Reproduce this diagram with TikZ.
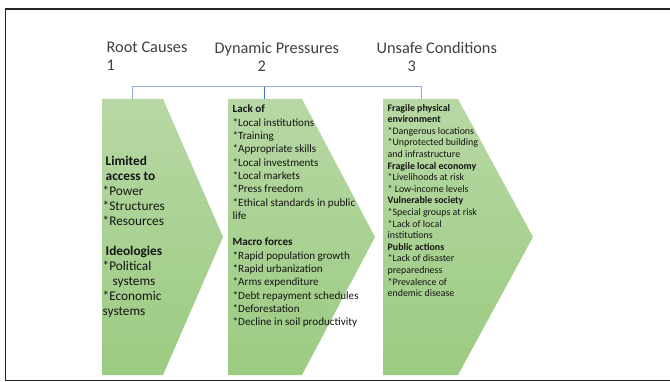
\documentclass[tikz,border=0pt]{standalone}
\usepackage{fontspec}
\setmainfont{Carlito}
\definecolor{gtop}{RGB}{183,216,164}
\definecolor{gbot}{RGB}{156,203,130}
\definecolor{titlegray}{RGB}{64,64,64}
\definecolor{bodyblack}{RGB}{20,20,20}
\definecolor{linkblue}{RGB}{143,170,220}
\definecolor{linkdark}{RGB}{68,114,196}
\begin{document}
\begin{tikzpicture}[x=1pt,y=-1pt,
  chev/.style={top color=gtop,bottom color=gbot,draw=none},
  title/.style={anchor=north west,inner sep=0pt,align=left,text=titlegray,font=\fontsize{16.3}{18}\selectfont},
  body/.style={anchor=north west,inner sep=0pt,align=left,text=bodyblack},
  link/.style={draw=linkblue,line width=1pt},
  linkd/.style={draw=linkdark,line width=1pt}]
\useasboundingbox (0,0) rectangle (670,382);
\fill[white] (0,0) rectangle (670,382);
\draw[black!85,line width=1.8pt] (5.5,9) rectangle (700,380.5);

% titles
\node[title] (h1) at (106.5,42) {Root Causes\\1};
\node[title] (h2) at (214.5,42) {Dynamic Pressures\\\hspace*{43pt}2};
\node[title] (h3) at (376.5,42) {Unsafe Conditions\\\hspace*{31pt}3};

% chevrons
\path[chev] (102,99) -- (163,99) -- (223,237) -- (163,375) -- (102,375) -- cycle;
\path[chev] (228,99) -- (302,99) -- (375,237) -- (302,375) -- (228,375) -- cycle;
\path[chev] (383,99) -- (458,99) -- (533,237) -- (458,375) -- (383,375) -- cycle;
\coordinate (c1) at (132,99);
\coordinate (c2) at (264,99);
\coordinate (c3) at (421,99);
\coordinate (hub) at (264,87);

% connectors
\draw[link] (hub) -| (c1);
\draw[link] (hub) -| (c3);
\draw[linkd] (hub) -- (c2);

% texts
\node[body,font=\fontsize{13.3}{15}\selectfont] (t1) at (102.5,156)
 {\hspace*{3pt}\textbf{Limited}\\\hspace*{3pt}\textbf{access to}\\*Power\\*Structures\\*Resources\\[15pt]\hspace*{3pt}\textbf{Ideologies}\\*Political\\\hspace*{10pt}systems\\*Economic\\systems};

\node[body,font=\fontsize{11.1}{13.3}\selectfont] (t2) at (232.5,105)
 {\textbf{Lack of}\\*Local institutions\\*Training\\*Appropriate skills\\*Local investments\\*Local markets\\*Press freedom\\*Ethical standards in public\\life\\[13.3pt]\textbf{Macro forces}\\*Rapid population growth\\*Rapid urbanization\\*Arms expenditure\\*Debt repayment schedules\\*Deforestation\\*Decline in soil productivity};

\node[body,font=\fontsize{9.9}{11.6}\selectfont] (t3) at (387.5,104)
 {\textbf{Fragile physical}\\\textbf{environment}\\*Dangerous locations\\*Unprotected building\\and infrastructure\\\textbf{Fragile local economy}\\*Livelihoods at risk\\* Low-income levels\\\textbf{Vulnerable society}\\*Special groups at risk\\*Lack of local\\institutions\\\textbf{Public actions}\\*Lack of disaster\\preparedness\\*Prevalence of\\endemic disease};
\end{tikzpicture}
\end{document}
